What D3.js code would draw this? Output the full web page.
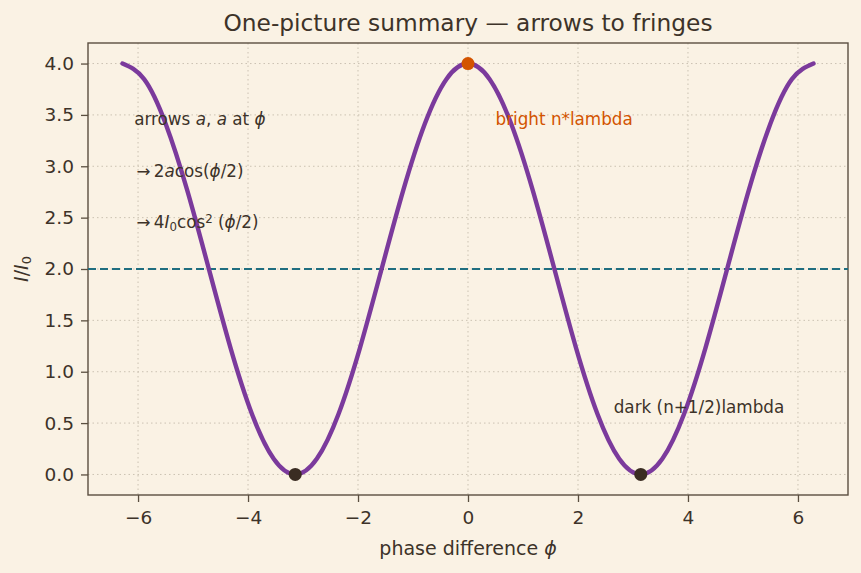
<!DOCTYPE html>
<html>
<head>
<meta charset="utf-8">
<script src="https://cdn.jsdelivr.net/npm/d3@7"></script>
<style>
  body { margin: 0; background: #faf2e4; }
  svg { display: block; font-family: "DejaVu Sans", sans-serif; }
</style>
</head>
<body>
<div id="chart"></div>
<script>
// Width and height
var chart_width = 861;
var chart_height = 573;
var margin = {top: 43, right: 13, bottom: 78, left: 88};

// phase (multiples of pi/8) and intensity
var phase = [-6.283, -5.890, -5.498, -5.105, -4.712, -4.320, -3.927, -3.534, -3.142,
             -2.749, -2.356, -1.963, -1.571, -1.178, -0.785, -0.393, 0.000,
             0.393, 0.785, 1.178, 1.571, 1.963, 2.356, 2.749, 3.142,
             3.534, 3.927, 4.320, 4.712, 5.105, 5.498, 5.890, 6.283];
var intensity = [4.000, 3.848, 3.414, 2.765, 2.000, 1.235, 0.586, 0.152, 0.000,
                 0.152, 0.586, 1.235, 2.000, 2.765, 3.414, 3.848, 4.000,
                 3.848, 3.414, 2.765, 2.000, 1.235, 0.586, 0.152, 0.000,
                 0.152, 0.586, 1.235, 2.000, 2.765, 3.414, 3.848, 4.000];
var brightPts = [{x: 0, y: 4}];
var darkPts = [{x: -3.1416, y: 0}, {x: 3.1416, y: 0}];
var meanLevel = 2.0;
var xTicks = [-6, -4, -2, 0, 2, 4, 6];
var yTicks = [0, 0.5, 1, 1.5, 2, 2.5, 3, 3.5, 4];

var bg = "#faf2e4", ink = "#3d3329", spine = "#5b4f40";

var svg = d3.select("#chart").append("svg")
  .attr("width", chart_width)
  .attr("height", chart_height);

svg.append("rect").attr("width", chart_width).attr("height", chart_height).attr("fill", bg);

var w = chart_width - margin.left - margin.right;
var h = chart_height - margin.top - margin.bottom;

var x = d3.scaleLinear().domain([-6.91, 6.91]).range([margin.left, margin.left + w]);
var y = d3.scaleLinear().domain([-0.2, 4.2]).range([margin.top + h, margin.top]);

//grid
var grid = svg.append("g").attr("stroke", "#cbc2b2").attr("stroke-width", 1).attr("stroke-dasharray", "1.5,3");
grid.selectAll(".gx").data(xTicks).enter().append("line")
  .attr("x1", d => x(d)).attr("x2", d => x(d))
  .attr("y1", margin.top).attr("y2", margin.top + h);
grid.selectAll(".gy").data(yTicks).enter().append("line")
  .attr("x1", margin.left).attr("x2", margin.left + w)
  .attr("y1", d => y(d)).attr("y2", d => y(d));

//axes
var xAxis = svg.append("g")
  .attr("transform", "translate(0," + (margin.top + h) + ")")
  .call(d3.axisBottom(x).tickValues(xTicks).tickSize(7).tickPadding(9).tickSizeOuter(0));
var yAxis = svg.append("g")
  .attr("transform", "translate(" + margin.left + ",0)")
  .call(d3.axisLeft(y).tickValues(yTicks).tickFormat(d3.format(".1f")).tickSize(7).tickPadding(7).tickSizeOuter(0));
[xAxis, yAxis].forEach(function(a) {
  a.select(".domain").remove();
  a.selectAll("line").attr("stroke", spine).attr("stroke-width", 1.3);
  a.selectAll("text").attr("fill", ink).style("font-size", "18.5px").style("font-family", "DejaVu Sans");
});

//frame
svg.append("rect")
  .attr("x", margin.left).attr("y", margin.top).attr("width", w).attr("height", h)
  .attr("fill", "none").attr("stroke", spine).attr("stroke-width", 1.4);

//mean level
svg.append("line")
  .attr("x1", margin.left).attr("x2", margin.left + w)
  .attr("y1", y(meanLevel)).attr("y2", y(meanLevel))
  .attr("stroke", "#1f6e80").attr("stroke-width", 2.2).attr("stroke-dasharray", "8,4");

//curve
var line = d3.line().x(d => x(d[0])).y(d => y(d[1])).curve(d3.curveNatural);
svg.append("path")
  .datum(d3.zip(phase, intensity))
  .attr("d", line)
  .attr("fill", "none")
  .attr("stroke", "#7b3a9c")
  .attr("stroke-width", 4.4)
  .attr("stroke-linecap", "round");

svg.selectAll(".bright").data(brightPts).enter().append("circle")
  .attr("cx", d => x(d.x)).attr("cy", d => y(d.y)).attr("r", 6.5).attr("fill", "#d35400");
svg.selectAll(".dark").data(darkPts).enter().append("circle")
  .attr("cx", d => x(d.x)).attr("cy", d => y(d.y)).attr("r", 6.5).attr("fill", "#3a2c22");

//annotations
function note(px, py, parts, color) {
  var t = svg.append("text").attr("x", x(px)).attr("y", y(py))
    .attr("fill", color).style("font-size", "16.8px");
  parts.forEach(function(p) {
    var s = t.append("tspan").text(p.t);
    if (p.i) s.style("font-style", "italic");
    if (p.sub) s.attr("baseline-shift", "-22%").style("font-size", "11.8px");
    if (p.sup) s.attr("baseline-shift", "40%").style("font-size", "11.8px");
  });
  return t;
}
note(-6.07, 3.4, [{t: "arrows "}, {t: "a", i: 1}, {t: ", "}, {t: "a", i: 1}, {t: " at "}, {t: "\u03d5", i: 1}], ink);
note(-6.03, 2.9, [{t: "\u2192\u20092"}, {t: "a", i: 1}, {t: "cos("}, {t: "\u03d5", i: 1}, {t: "/2)"}], ink);
note(-6.03, 2.4, [{t: "\u2192\u20094"}, {t: "I", i: 1}, {t: "0", sub: 1}, {t: "cos"}, {t: "2", sup: 1}, {t: " ("}, {t: "\u03d5", i: 1}, {t: "/2)"}], ink);
note(0.5, 3.4, [{t: "bright n*lambda"}], "#d35400");
note(2.65, 0.6, [{t: "dark (n+1/2)lambda"}], ink);

//title and labels
svg.append("text").attr("x", margin.left + w / 2).attr("y", 31)
  .attr("text-anchor", "middle").attr("fill", ink).style("font-size", "23.3px")
  .text("One-picture summary \u2014 arrows to fringes");

var xl = svg.append("text").attr("x", margin.left + w / 2).attr("y", 555)
  .attr("text-anchor", "middle").attr("fill", ink).style("font-size", "19px");
xl.append("tspan").text("phase difference ");
xl.append("tspan").style("font-style", "italic").text("\u03d5");

var yl = svg.append("text")
  .attr("transform", "translate(28," + (margin.top + h / 2) + ") rotate(-90)")
  .attr("text-anchor", "middle").attr("fill", ink).style("font-size", "19px");
yl.append("tspan").style("font-style", "italic").text("I");
yl.append("tspan").text("/");
yl.append("tspan").style("font-style", "italic").text("I");
yl.append("tspan").attr("baseline-shift", "-22%").style("font-size", "13px").text("0");
</script>
</body>
</html>
